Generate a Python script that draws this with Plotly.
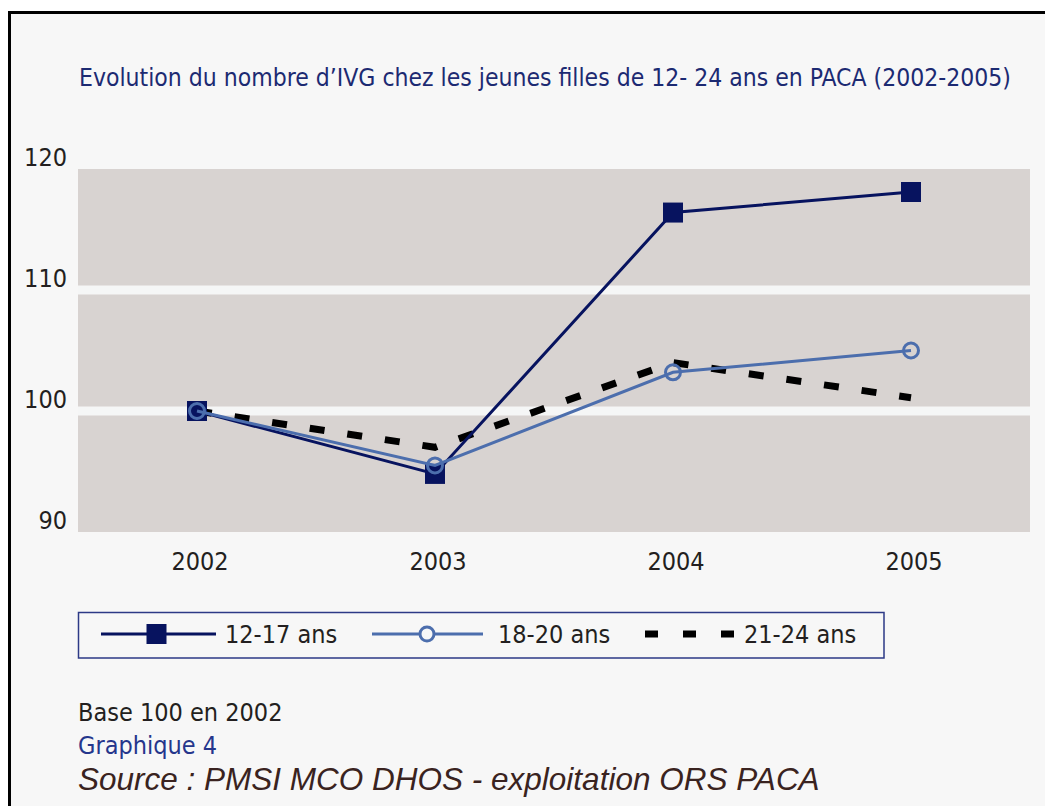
import plotly.graph_objects as go

# ---------------- data ----------------
years = ["2002", "2003", "2004", "2005"]
ans_12_17 = [100.0, 94.8, 116.4, 118.1]
ans_18_20 = [100.0, 95.5, 103.2, 105.0]
ans_21_24 = [100.0, 97.0, 104.0, 101.1]
y_ticks = [90, 100, 110, 120]
band_lines = [100, 110]
series_names = ["12-17 ans", "18-20 ans", "21-24 ans"]

title_text = "Evolution du nombre d’IVG chez les jeunes filles de 12- 24 ans en PACA (2002-2005)"
note_base = "Base 100 en 2002"
note_graph = "Graphique 4"
note_source = "Source : PMSI MCO DHOS - exploitation ORS PACA"

# ---------------- layout geometry (px) ----------------
W, H = 1045, 806
L, R, T, B = 78, 1030, 169, 532
PW, PH = R - L, B - T


def px(x):
    return (x - L) / PW


def py(y):
    return (B - y) / PH


NAVY = "#07135f"
STEEL = "#4c6ead"
TXT = "#231f20"
NARROW = "Liberation Sans Narrow, Arial Narrow, DejaVu Sans Condensed, sans-serif"
FS = 25

fig = go.Figure()

fig.add_trace(go.Scatter(
    x=years, y=ans_21_24, name=series_names[2], mode="lines",
    line=dict(color="#000000", width=7, dash="15px,23px"),
    showlegend=False, hoverinfo="skip"))
fig.add_trace(go.Scatter(
    x=years, y=ans_12_17, name=series_names[0], mode="lines+markers",
    line=dict(color=NAVY, width=3),
    marker=dict(symbol="square", size=20, color=NAVY),
    showlegend=False))
fig.add_trace(go.Scatter(
    x=years, y=ans_18_20, name=series_names[1], mode="lines+markers",
    line=dict(color=STEEL, width=3),
    marker=dict(symbol="circle-open", size=15, color=STEEL, line=dict(width=3, color=STEEL)),
    showlegend=False))

shapes = []
# white bands between the grey zones
for v in band_lines:
    shapes.append(dict(type="line", xref="paper", yref="y", x0=0, x1=1, y0=v, y1=v,
                       line=dict(color="#f5f6f6", width=9), layer="below"))
# outer frame (white outside, black edges)
shapes.append(dict(type="rect", xref="paper", yref="paper", x0=px(-20), x1=px(8), y0=py(-20), y1=py(830),
                   fillcolor="#ffffff", line=dict(width=0), layer="above"))
shapes.append(dict(type="rect", xref="paper", yref="paper", x0=px(-20), x1=px(1060), y0=py(-20), y1=py(11),
                   fillcolor="#ffffff", line=dict(width=0), layer="above"))
shapes.append(dict(type="line", xref="paper", yref="paper", x0=px(9.5), x1=px(9.5), y0=py(11), y1=py(830),
                   line=dict(color="#000000", width=3)))
shapes.append(dict(type="line", xref="paper", yref="paper", x0=px(8), x1=px(1060), y0=py(12.5), y1=py(12.5),
                   line=dict(color="#000000", width=3)))
# legend box
shapes.append(dict(type="rect", xref="paper", yref="paper", x0=px(78.5), x1=px(884), y0=py(658), y1=py(612.5),
                   line=dict(color="#2d3a86", width=1.5)))
LY = 634
shapes.append(dict(type="line", xref="paper", yref="paper", x0=px(101), x1=px(216), y0=py(LY), y1=py(LY),
                   line=dict(color=NAVY, width=3)))
shapes.append(dict(type="rect", xref="paper", yref="paper", x0=px(146.5), x1=px(166.5), y0=py(LY + 10), y1=py(LY - 10),
                   fillcolor=NAVY, line=dict(width=0)))
shapes.append(dict(type="line", xref="paper", yref="paper", x0=px(372), x1=px(483), y0=py(LY), y1=py(LY),
                   line=dict(color=STEEL, width=3)))
shapes.append(dict(type="circle", xref="paper", yref="paper", x0=px(420), x1=px(434), y0=py(LY + 7), y1=py(LY - 7),
                   fillcolor="#f7f7f7", line=dict(color=STEEL, width=3)))
shapes.append(dict(type="line", xref="paper", yref="paper", x0=px(645), x1=px(735), y0=py(LY), y1=py(LY),
                   line=dict(color="#000000", width=7, dash="13px,25px")))

annotations = [
    dict(text=title_text, xref="paper", yref="paper", x=px(545), y=py(77), xanchor="center", yanchor="middle",
         showarrow=False, font=dict(family=NARROW, size=24.5, color="#1c2a72")),
    dict(text=series_names[0], xref="paper", yref="paper", x=px(223), y=py(LY), xanchor="left", yanchor="middle",
         showarrow=False, font=dict(family=NARROW, size=FS, color=TXT)),
    dict(text=series_names[1], xref="paper", yref="paper", x=px(496), y=py(LY), xanchor="left", yanchor="middle",
         showarrow=False, font=dict(family=NARROW, size=FS, color=TXT)),
    dict(text=series_names[2], xref="paper", yref="paper", x=px(742), y=py(LY), xanchor="left", yanchor="middle",
         showarrow=False, font=dict(family=NARROW, size=FS, color=TXT)),
    dict(text=note_base, xref="paper", yref="paper", x=px(76), y=py(712), xanchor="left", yanchor="middle",
         showarrow=False, font=dict(family=NARROW, size=FS, color=TXT)),
    dict(text=note_graph, xref="paper", yref="paper", x=px(76), y=py(745), xanchor="left", yanchor="middle",
         showarrow=False, font=dict(family=NARROW, size=FS, color="#25368c")),
    dict(text=note_source, xref="paper", yref="paper", x=px(76), y=py(779), xanchor="left", yanchor="middle",
         showarrow=False, font=dict(family="Liberation Sans, Arial, sans-serif", size=31.5, color="#3a2320", style="italic")),
]

fig.update_layout(
    width=W, height=H,
    margin=dict(l=L, r=W - R, t=T, b=H - B, pad=0),
    paper_bgcolor="#f7f7f7",
    plot_bgcolor="#d8d3d1",
    showlegend=False,
    shapes=shapes,
    annotations=annotations,
    xaxis=dict(type="category", range=[-0.5, 3.5], showgrid=False, zeroline=False, showline=False,
               ticks="", ticklabelstandoff=12, ticklabelshift=3,
               tickfont=dict(family=NARROW, size=FS, color=TXT), fixedrange=True),
    yaxis=dict(range=[90, 120], tickvals=y_ticks, showgrid=False, zeroline=False, showline=False,
               ticks="", ticklabelstandoff=10, ticklabelshift=-12,
               tickfont=dict(family=NARROW, size=FS, color=TXT), fixedrange=True),
)

fig.write_html("out.html", config={"displayModeBar": False},
               post_script="document.body.style.margin='0';document.body.style.overflow='hidden';")
